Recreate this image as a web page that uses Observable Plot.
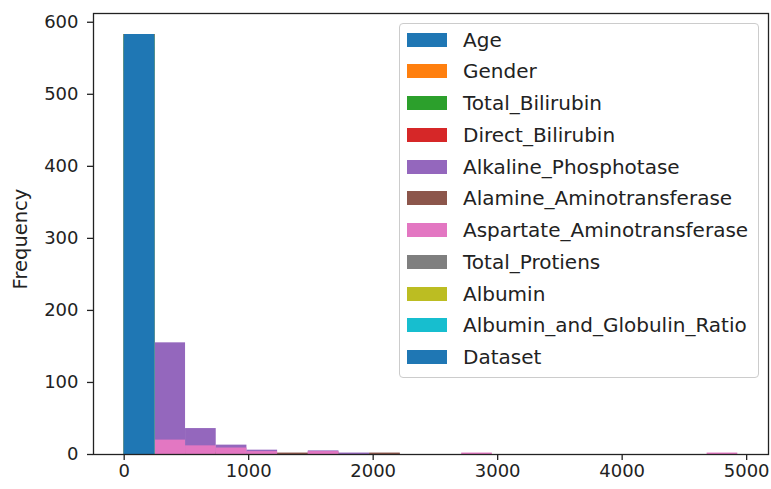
<!DOCTYPE html>
<html>
<head>
<meta charset="utf-8">
<script src="https://cdn.jsdelivr.net/npm/d3@7"></script>
<script src="https://cdn.jsdelivr.net/npm/@observablehq/plot@0.6"></script>
<style>
  html, body { margin: 0; padding: 0; background: #fff; }
  #wrap { position: relative; width: 771px; height: 489px; font-family: "DejaVu Sans", sans-serif; }
  #legend { position: absolute; left: 399px; top: 23px; width: 360px; height: 355px;
    border: 1px solid #cccccc; border-radius: 4px; background: rgba(255,255,255,0.8); box-sizing: border-box; }
  .item { position: absolute; left: 0; height: 24px; width: 100%; }
  .sw { position: absolute; left: 7px; top: 5px; width: 40px; height: 14px; }
  .lb { position: absolute; left: 63px; top: 0; font-size: 20px; color: #222; white-space: nowrap; line-height: 24px; }
</style>
</head>
<body>
<div id="wrap"></div>
<script>
// Series (column) names in drawing order
const series = ["Age", "Gender", "Total_Bilirubin", "Direct_Bilirubin", "Alkaline_Phosphotase",
  "Alamine_Aminotransferase", "Aspartate_Aminotransferase", "Total_Protiens", "Albumin",
  "Albumin_and_Globulin_Ratio", "Dataset"];
const colors = ["#1f77b4", "#ff7f0e", "#2ca02c", "#d62728", "#9467bd", "#8c564b",
  "#e377c2", "#7f7f7f", "#bcbd22", "#17becf", "#1f77b4"];

// Shared bin edges (20 bins over 0..4929)
const binEdges = [0, 246.45, 492.9, 739.35, 985.8, 1232.25, 1478.7, 1725.15, 1971.6, 2218.05,
  2464.5, 2710.95, 2957.4, 3203.85, 3450.3, 3696.75, 3943.2, 4189.65, 4436.1, 4682.55, 4929];

// Counts per bin, per series
const ageCounts      = [583, 0, 0, 0, 0, 0, 0, 0, 0, 0, 0, 0, 0, 0, 0, 0, 0, 0, 0, 0];
const genderCounts   = [583, 0, 0, 0, 0, 0, 0, 0, 0, 0, 0, 0, 0, 0, 0, 0, 0, 0, 0, 0];
const totBiliCounts  = [583, 0, 0, 0, 0, 0, 0, 0, 0, 0, 0, 0, 0, 0, 0, 0, 0, 0, 0, 0];
const dirBiliCounts  = [583, 0, 0, 0, 0, 0, 0, 0, 0, 0, 0, 0, 0, 0, 0, 0, 0, 0, 0, 0];
const alkPhosCounts  = [364, 155, 36, 13, 6, 1, 5, 2, 1, 0, 0, 0, 0, 0, 0, 0, 0, 0, 0, 0];
const alamineCounts  = [565, 8, 3, 1, 0, 2, 2, 0, 2, 0, 0, 0, 0, 0, 0, 0, 0, 0, 0, 0];
const aspartCounts   = [532, 20, 12, 9, 4, 0, 4, 0, 0, 0, 0, 2, 0, 0, 0, 0, 0, 0, 0, 2];
const protCounts     = [583, 0, 0, 0, 0, 0, 0, 0, 0, 0, 0, 0, 0, 0, 0, 0, 0, 0, 0, 0];
const albuminCounts  = [583, 0, 0, 0, 0, 0, 0, 0, 0, 0, 0, 0, 0, 0, 0, 0, 0, 0, 0, 0];
const agRatioCounts  = [579, 0, 0, 0, 0, 0, 0, 0, 0, 0, 0, 0, 0, 0, 0, 0, 0, 0, 0, 0];
const datasetCounts  = [583, 0, 0, 0, 0, 0, 0, 0, 0, 0, 0, 0, 0, 0, 0, 0, 0, 0, 0, 0];

const xTicks = [0, 1000, 2000, 3000, 4000, 5000];
const yTicks = [0, 100, 200, 300, 400, 500, 600];

const allCounts = [ageCounts, genderCounts, totBiliCounts, dirBiliCounts, alkPhosCounts,
  alamineCounts, aspartCounts, protCounts, albuminCounts, agRatioCounts, datasetCounts];

const rows = [];
allCounts.forEach((counts, si) => {
  counts.forEach((c, bi) => {
    if (c > 0) rows.push({series: series[si], idx: si, x1: binEdges[bi], x2: binEdges[bi + 1], count: c});
  });
});

const lo = binEdges[0], hi = binEdges[binEdges.length - 1];
const padX = (hi - lo) * 0.05;
const maxY = d3.max(rows, d => d.count);

const plot = Plot.plot({
  width: 771,
  height: 489,
  marginLeft: 93,
  marginRight: 3,
  marginTop: 13,
  marginBottom: 35,
  style: {fontFamily: "DejaVu Sans, sans-serif", fontSize: "18px", color: "#222", background: "#fff"},
  x: {domain: [lo - padX, hi + padX]},
  y: {domain: [0, maxY * 1.05]},
  marks: [
    Plot.rect(rows, {x1: "x1", x2: "x2", y1: 0, y2: "count", fill: d => colors[d.idx]}),
    Plot.frame({stroke: "#222", strokeWidth: 1.3}),
    Plot.axisX({ticks: xTicks, tickSize: 6, tickPadding: 4, label: null, tickFormat: d => String(d), stroke: "#222", strokeWidth: 1.3}),
    Plot.axisY({ticks: yTicks, tickSize: 6, tickPadding: 9, label: null, tickFormat: d => String(d), stroke: "#222", strokeWidth: 1.3}),
    Plot.text(["Frequency"], {frameAnchor: "left", textAnchor: "middle", dx: -73, dy: 5, rotate: -90, fontSize: 19.5, fill: "#222"})
  ]
});

const wrap = document.getElementById("wrap");
wrap.appendChild(plot);

const legend = document.createElement("div");
legend.id = "legend";
series.forEach((s, i) => {
  const item = document.createElement("div");
  item.className = "item";
  item.style.top = (39.5 + 31.75 * i - 23 - 12 - 1) + "px";
  const sw = document.createElement("div");
  sw.className = "sw";
  sw.style.background = colors[i];
  const lb = document.createElement("div");
  lb.className = "lb";
  lb.textContent = s;
  item.appendChild(sw);
  item.appendChild(lb);
  legend.appendChild(item);
});
wrap.appendChild(legend);
</script>
</body>
</html>
